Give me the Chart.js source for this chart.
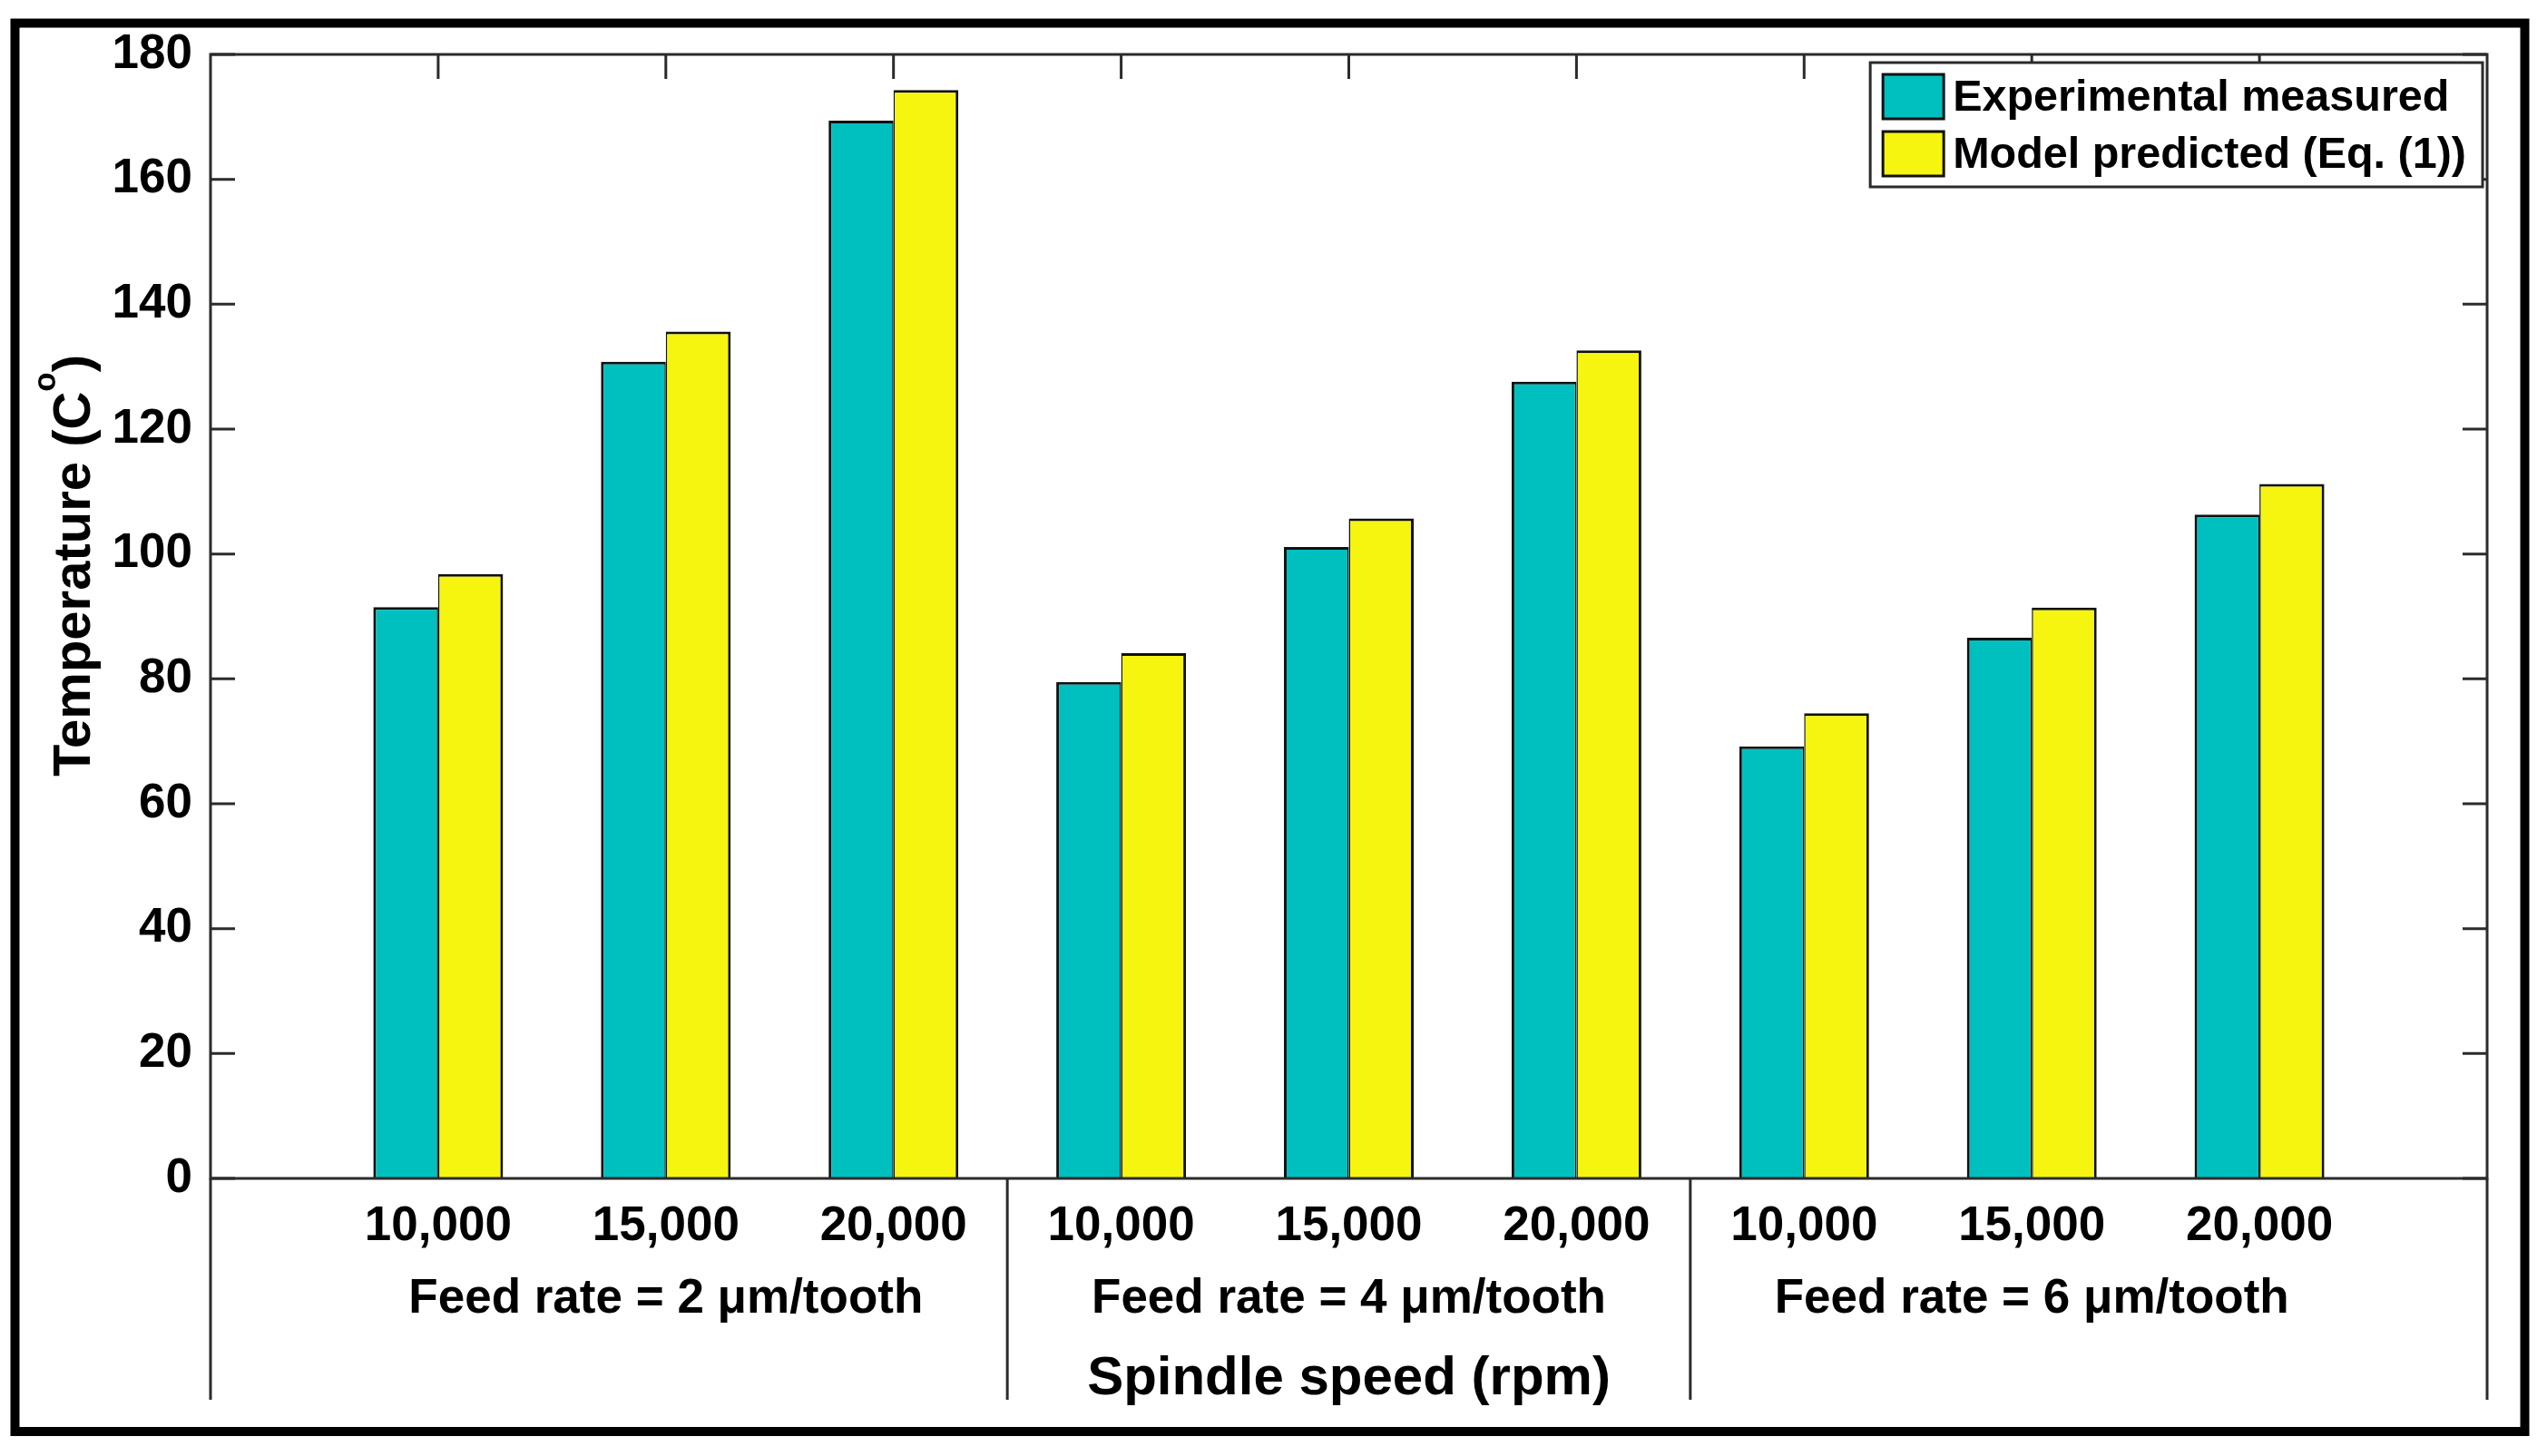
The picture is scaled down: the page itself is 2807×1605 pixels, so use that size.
<!DOCTYPE html>
<html>
<head>
<meta charset="utf-8">
<title>Temperature vs spindle speed</title>
<script src="https://cdn.jsdelivr.net/npm/chart.js@4.4.1/dist/chart.umd.min.js"></script>
<style>
  html, body { margin: 0; padding: 0; background: #fff; }
  canvas { display: block; }
</style>
</head>
<body>
<canvas id="chart" width="2807" height="1605"></canvas>
<script>
// spindle speeds inside each feed-rate group
const speeds = ['10,000', '15,000', '20,000'];
const feedRates = [2, 4, 6]; // um/tooth
const experimental = [91.5, 130.8, 169.4, 79.5, 101.1, 127.6, 69.2, 86.6, 106.3];
const predicted = [96.8, 135.6, 174.3, 84.1, 105.7, 132.6, 74.5, 91.4, 111.2];
const seriesNames = ['Experimental measured', 'Model predicted (Eq. (1))'];
const yMin = 0, yMax = 180, yStep = 20;

const FONT = "'Liberation Sans', Arial, Helvetica, sans-serif";
const AXIS = '#2b2b2b';

// empty slot on each side, group caption as 2nd line under the middle speed
const labels = [''];
feedRates.forEach(f => {
  speeds.forEach((s, j) => {
    labels.push(j === 1 ? [s, 'Feed rate = ' + f + ' \u03bcm/tooth'] : s);
  });
});
labels.push('');
const pad = arr => [null, ...arr, null];

const boxPlugin = {
  id: 'boxPlugin',
  beforeDraw(chart) {
    const { ctx } = chart;
    ctx.save();
    ctx.strokeStyle = '#000';
    ctx.lineWidth = 10;
    ctx.strokeRect(16.5, 25.5, 2766, 1552.5);
    ctx.restore();
  },
  afterDatasetsDraw(chart) {
    const { ctx, chartArea: a, scales: { x, y } } = chart;
    ctx.save();
    ctx.strokeStyle = AXIS;
    ctx.lineWidth = 3;
    ctx.strokeRect(a.left, a.top, a.right - a.left, a.bottom - a.top);

    ctx.beginPath();
    // lines under the axis separating the feed-rate groups
    const lowY = a.bottom + 244;
    const seps = [0];
    for (let g = 1; g < feedRates.length; g++) seps.push(g * speeds.length + 0.5);
    seps.push(labels.length - 1);
    seps.forEach(v => {
      const px = x.getPixelForValue(v);
      ctx.moveTo(px, a.bottom);
      ctx.lineTo(px, lowY);
    });
    // inward ticks
    const tl = 27;
    y.ticks.forEach(t => {
      const py = y.getPixelForValue(t.value);
      ctx.moveTo(a.left, py); ctx.lineTo(a.left + tl, py);
      ctx.moveTo(a.right, py); ctx.lineTo(a.right - tl, py);
    });
    for (let i = 1; i < labels.length - 1; i++) {
      const px = x.getPixelForValue(i);
      ctx.moveTo(px, a.top); ctx.lineTo(px, a.top + tl);
    }
    ctx.stroke();
    ctx.restore();
  },
  afterDraw(chart) {
    const { ctx, chartArea: a } = chart;
    ctx.save();

    // legend, top right inside the axes
    ctx.font = 'bold 48.5px ' + FONT;
    const textW = Math.max(...seriesNames.map(n => ctx.measureText(n).width));
    const sw = 67, sh = 49;
    const bw = 14 + sw + 10 + textW + 18, bh = 137;
    const bx = a.right - 5 - bw, by = a.top + 9;
    ctx.fillStyle = '#fff';
    ctx.fillRect(bx, by, bw, bh);
    ctx.strokeStyle = AXIS;
    ctx.lineWidth = 3;
    ctx.strokeRect(bx, by, bw, bh);
    chart.data.datasets.forEach((ds, i) => {
      const sy = by + 13 + i * 63;
      ctx.fillStyle = ds.backgroundColor;
      ctx.fillRect(bx + 14, sy, sw, sh);
      ctx.strokeStyle = '#111';
      ctx.lineWidth = 3;
      ctx.strokeRect(bx + 14, sy, sw, sh);
      ctx.fillStyle = '#000';
      ctx.textBaseline = 'middle';
      ctx.textAlign = 'left';
      ctx.fillText(ds.label, bx + 14 + sw + 10, sy + sh / 2 + 2);
    });

    // y title with superscript o
    const big = 'bold 58px ' + FONT, small = 'bold 35px ' + FONT;
    const p1 = 'Temperature (C', p2 = 'o', p3 = ')';
    ctx.font = big;
    const w1 = ctx.measureText(p1).width, w3 = ctx.measureText(p3).width;
    ctx.font = small;
    const w2 = ctx.measureText(p2).width;
    const total = w1 + w2 + w3;
    ctx.translate(99, (a.top + a.bottom) / 2 - 56);
    ctx.rotate(-Math.PI / 2);
    ctx.fillStyle = '#000';
    ctx.textBaseline = 'alphabetic';
    ctx.textAlign = 'left';
    let cx = -total / 2;
    ctx.font = big;
    ctx.fillText(p1, cx, 0);
    cx += w1;
    ctx.font = small;
    ctx.fillText(p2, cx, -38);
    cx += w2;
    ctx.font = big;
    ctx.fillText(p3, cx, 0);
    ctx.restore();
  }
};

new Chart(document.getElementById('chart'), {
  type: 'bar',
  data: {
    labels: labels,
    datasets: [
      {
        label: seriesNames[0],
        data: pad(experimental),
        backgroundColor: '#00bfbf',
        borderColor: '#111',
        borderWidth: { top: 3, left: 3, right: 1.5, bottom: 0 },
        borderSkipped: false,
        categoryPercentage: 0.57,
        barPercentage: 1.0
      },
      {
        label: seriesNames[1],
        data: pad(predicted),
        backgroundColor: '#f5f510',
        borderColor: '#111',
        borderWidth: { top: 3, left: 1.5, right: 3, bottom: 0 },
        borderSkipped: false,
        categoryPercentage: 0.57,
        barPercentage: 1.0
      }
    ]
  },
  options: {
    responsive: false,
    devicePixelRatio: 1,
    animation: false,
    layout: { padding: { left: 0, right: 66, top: 60, bottom: 0 } },
    plugins: {
      legend: { display: false },
      tooltip: { enabled: false }
    },
    scales: {
      x: {
        type: 'category',
        offset: false,
        grid: { display: false, drawTicks: false },
        border: { display: false },
        ticks: {
          autoSkip: false,
          maxRotation: 0,
          minRotation: 0,
          padding: 13,
          color: '#000',
          font: { family: FONT, size: 53, weight: 'bold', lineHeight: 1.52 }
        },
        title: {
          display: true,
          text: 'Spindle speed (rpm)',
          color: '#000',
          font: { family: FONT, size: 60, weight: 'bold', lineHeight: 1.2 },
          padding: { top: 0, bottom: 49 }
        },
        afterFit(scale) { scale.height = 306; }
      },
      y: {
        min: yMin,
        max: yMax,
        grid: { display: false, drawTicks: false },
        border: { display: false },
        ticks: {
          stepSize: yStep,
          padding: 20,
          color: '#000',
          font: { family: FONT, size: 53, weight: 'bold' }
        },
        afterFit(scale) { scale.width = 232; }
      }
    }
  },
  plugins: [boxPlugin]
});
</script>
</body>
</html>
